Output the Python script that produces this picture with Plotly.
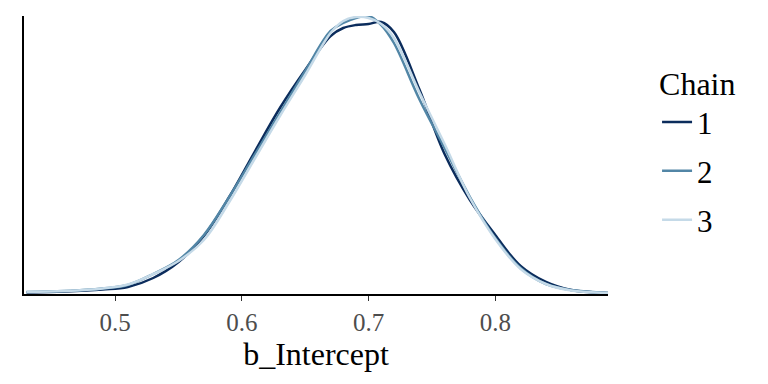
import plotly.graph_objects as go

# Shared x grid (b_Intercept values)
x_grid = [0.43, 0.46, 0.49, 0.51, 0.53, 0.55, 0.57, 0.59, 0.61, 0.63, 0.65, 0.67,
          0.68, 0.69, 0.70, 0.71, 0.72, 0.74, 0.76, 0.78, 0.80, 0.82, 0.84, 0.86, 0.89]

# Density estimates per chain (relative units)
dens_chain1 = [1.5, 2.5, 4.5, 7, 16, 32, 58, 97, 142, 186, 224, 258,
               266, 269, 270, 272, 262, 205, 140, 94, 59, 28, 12, 4, 1]
dens_chain2 = [2, 3, 5.5, 9, 20, 34, 59, 97, 139, 181, 223, 263,
               271, 276, 278, 269, 251, 195, 146, 97, 56, 26, 10, 4, 1]
dens_chain3 = [2, 3, 5.5, 9.5, 20, 33, 54, 92, 135, 178, 219, 261,
               273, 277, 276, 270, 256, 202, 150, 96, 55, 25, 10, 3.5, 1]

chains = ["1", "2", "3"]
series = [dens_chain1, dens_chain2, dens_chain3]
colors = ["#0b2c5c", "#5286a6", "#c5dae8"]

FONT = "Liberation Serif"

fig = go.Figure()
for name, dens, col in zip(chains, series, colors):
    fig.add_trace(go.Scatter(
        x=x_grid, y=dens, mode="lines", name=name, legendgroup=name,
        line=dict(color=col, width=2.5, shape="spline", smoothing=1.0),
        cliponaxis=False,
    ))

# page body adds an 8px offset, so the figure is sized/positioned to compensate
fig.update_layout(
    width=760, height=376,
    paper_bgcolor="white", plot_bgcolor="white",
    margin=dict(l=16, r=160, t=8, b=90, pad=0),
    font=dict(family=FONT, color="black"),
    showlegend=True,
    legend=dict(
        title=dict(text="Chain", font=dict(family=FONT, size=32, color="black")),
        font=dict(family=FONT, size=31, color="black"),
        x=1.084, xanchor="left", y=0.864, yanchor="top",
        tracegroupgap=5.5, traceorder="grouped",
        bgcolor="rgba(0,0,0,0)",
    ),
    xaxis=dict(
        range=[0.428, 0.889], showgrid=False, zeroline=False,
        showline=True, linecolor="black", linewidth=1.6,
        ticks="outside", ticklen=5, tickwidth=1, tickcolor="#333333",
        tickvals=[0.5, 0.6, 0.7, 0.8], ticktext=["0.5", "0.6", "0.7", "0.8"],
        tickfont=dict(family=FONT, size=25, color="#4d4d4d"),
        title=dict(text="b_Intercept", font=dict(family=FONT, size=32, color="black"),
                   standoff=0),
    ),
    yaxis=dict(
        range=[0, 278], showgrid=False, zeroline=False,
        showline=True, linecolor="black", linewidth=1.6,
        showticklabels=False, ticks="",
    ),
)

fig.write_html("out.html")
